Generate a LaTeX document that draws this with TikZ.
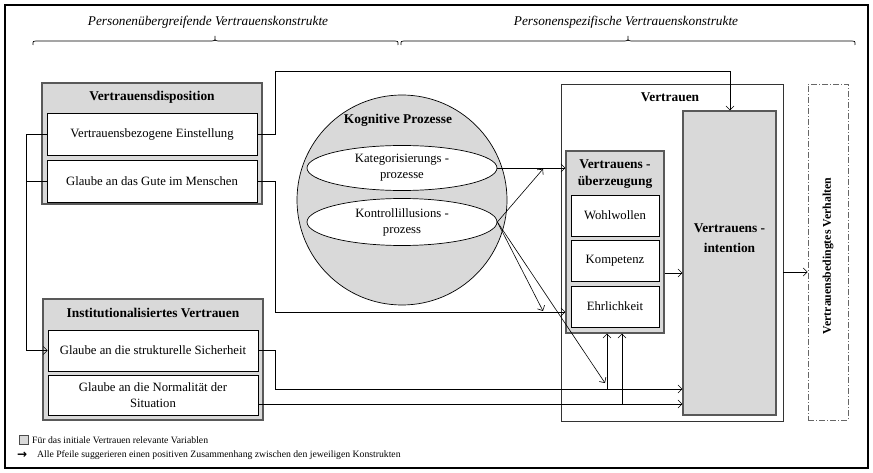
\documentclass[tikz,border=0pt]{standalone}
\usepackage{fontspec}
\setmainfont{Liberation Serif}
\newfontfamily\symfont{DejaVu Sans}
\usetikzlibrary{arrows.meta,shapes.geometric}

\begin{document}
\begin{tikzpicture}[x=1pt,y=-1pt,
  font=\fontsize{12.7}{14}\selectfont,
  graybox/.style={draw=black!65, fill=black!15, line width=1.2pt, inner sep=0pt},
  whitebox/.style={draw=black, fill=white, line width=0.7pt, inner sep=0pt, align=center},
  boxtitle/.style={font=\bfseries\fontsize{13.4}{15}\selectfont, align=center, inner sep=0pt},
  heading/.style={font=\itshape\fontsize{13.3}{15}\selectfont, inner sep=0pt},
  bracepath/.style={line width=0.7pt},
  plainline/.style={line width=0.6pt},
  conn/.style={line width=0.6pt, -{Straight Barb[length=4pt,width=8pt]}},
  procell/.style={draw=black, fill=white, line width=0.7pt, ellipse, inner sep=0pt, align=center},
  keytext/.style={font=\fontsize{9.7}{11}\selectfont, anchor=west, inner sep=0pt}]

\useasboundingbox (0,0) rectangle (873,473);
\draw[line width=2pt] (5,5) rectangle (868,468);

% headings with their braces
\node[heading] (hl) at (208,22) {Personenübergreifende Vertrauenskonstrukte};
\node[heading] (hr) at (626,22) {Personenspezifische Vertrauenskonstrukte};
\draw[bracepath] (33,45) .. controls (33,41) .. (36,41) -- (212,41)
  .. controls (215,41) .. (215,36) .. controls (215,41) .. (218,41)
  -- (395,41) .. controls (398,41) .. (398,45);
\draw[bracepath] (401,45) .. controls (401,41) .. (404,41) -- (625,41)
  .. controls (628,41) .. (628,36) .. controls (628,41) .. (631,41)
  -- (852,41) .. controls (855,41) .. (855,45);

% Vertrauensdisposition
\node[graybox, minimum width=220pt, minimum height=121pt] (disp) at (152,143.5) {};
\node[boxtitle] (dispt) at (152,97) {Vertrauensdisposition};
\node[whitebox, minimum width=210pt, minimum height=42pt] (ve) at (152,134) {Vertrauensbezogene Einstellung};
\node[whitebox, minimum width=210pt, minimum height=42pt] (gute) at (152,181) {Glaube an das Gute im Menschen};

% Institutionalisiertes Vertrauen
\node[graybox, minimum width=220pt, minimum height=121pt] (inst) at (153,359.5) {};
\node[boxtitle] (instt) at (153,313) {Institutionalisiertes Vertrauen};
\node[whitebox, minimum width=210pt, minimum height=41pt] (struct) at (153,350.5) {Glaube an die strukturelle Sicherheit};
\node[whitebox, minimum width=210pt, minimum height=40pt, font=\fontsize{12.7}{16.5}\selectfont] (norm) at (153,395) {Glaube an die Normalität der\\Situation};

% Kognitive Prozesse
\node[circle, draw=black, fill=black!15, line width=0.7pt, minimum size=210pt, inner sep=0pt] (kog) at (402,200) {};
\node[boxtitle] (kogt) at (398,120) {Kognitive Prozesse};
\node[procell, minimum width=190pt, minimum height=45pt, font=\fontsize{12.7}{16}\selectfont] (kat) at (402,168) {Kategorisierungs -\\prozesse};
\node[procell, minimum width=190pt, minimum height=47pt, font=\fontsize{12.7}{16}\selectfont] (kon) at (402,222) {Kontrollillusions -\\prozess};

% Vertrauen
\node[draw=black!80, fill=white, line width=0.8pt, minimum width=222pt, minimum height=337pt, inner sep=0pt] (vt) at (672,252.5) {};
\node[boxtitle] (vtt) at (670,97) {Vertrauen};
\node[graybox, minimum width=98pt, minimum height=182pt] (vue) at (615,242) {};
\node[boxtitle, font=\bfseries\fontsize{13.4}{17}\selectfont] (vuet) at (615,174.5) {Vertrauens -\\überzeugung};
\node[whitebox, minimum width=88pt, minimum height=41pt] (wohl) at (615,215.5) {Wohlwollen};
\node[whitebox, minimum width=88pt, minimum height=41pt] (komp) at (615,260.5) {Kompetenz};
\node[whitebox, minimum width=88pt, minimum height=41pt] (ehr) at (615,306.5) {Ehrlichkeit};
\node[graybox, minimum width=93pt, minimum height=304pt] (vi) at (729.5,263) {};
\node[boxtitle, font=\bfseries\fontsize{13.4}{20}\selectfont] (vit) at (729.5,238) {Vertrauens -\\intention};

% Verhalten
\node[draw=black!60, line width=0.8pt, dash pattern=on 6pt off 2pt on 1pt off 2pt,
  minimum width=40pt, minimum height=336pt, inner sep=0pt] (verh) at (828,252) {};
\node[boxtitle, rotate=90, font=\bfseries\fontsize{11.8}{13}\selectfont] (verht) at (828,256) {Vertrauensbedingtes Verhalten};

% bend points of the connectors
\coordinate (c1) at (275,134);
\coordinate (c2) at (275,71);
\coordinate (c3) at (730,71);
\coordinate (c4) at (275,181);
\coordinate (c5) at (275,312);
\coordinate (c6) at (26,134);
\coordinate (c7) at (26,181);
\coordinate (c8) at (275,350.5);
\coordinate (c9) at (275,389);
\coordinate (m1) at (543,169);
\coordinate (m2) at (543,311);
\coordinate (m3) at (605,383);
\coordinate (b1) at (607,389);
\coordinate (b2) at (622,404);

% connectors
\draw[conn] (ve.east) -- (c1) -- (c2) -- (c3) -- (vi.north -| c3);
\draw[conn] (gute.east) -- (c4) -- (c5) -- (c5 -| vue.west);
\draw[conn] (ve.west) -- (c6) |- (struct.west);
\draw[plainline] (gute.west) -- (c7);
\draw[conn] (kat.east) -- (kat.east -| vue.west);
\draw[conn] (kon.east) -- (m1);
\draw[conn] (kon.east) -- (m2);
\draw[conn] (kon.east) -- (m3);
\draw[conn] (struct.east) -- (c8) -- (c9) -- (c9 -| vi.west);
\draw[conn] (b1) -- (b1 |- vue.south);
\draw[conn] ([yshift=-9pt]norm.east) -- (b2 -| vi.west);
\draw[conn] (b2) -- (b2 |- vue.south);
\draw[conn] ([yshift=-31pt]vue.east) -- ([yshift=-31pt]vue.east -| vi.west);
\draw[conn] ([yshift=-19.5pt]vt.east) -- ([yshift=-19.5pt]vt.east -| verh.west);

% key
\node[draw=black!70, fill=black!15, line width=0.6pt, minimum size=9pt, inner sep=0pt] (keybox) at (24,440) {};
\node[keytext] (keyt1) at (32,440) {Für das initiale Vertrauen relevante Variablen};
\node[keytext, font=\symfont\bfseries\fontsize{12}{12}\selectfont] (keyarr) at (17,455) {→};
\node[keytext] (keyt2) at (37,455) {Alle Pfeile suggerieren einen positiven Zusammenhang zwischen den jeweiligen Konstrukten};
\end{tikzpicture}
\end{document}
